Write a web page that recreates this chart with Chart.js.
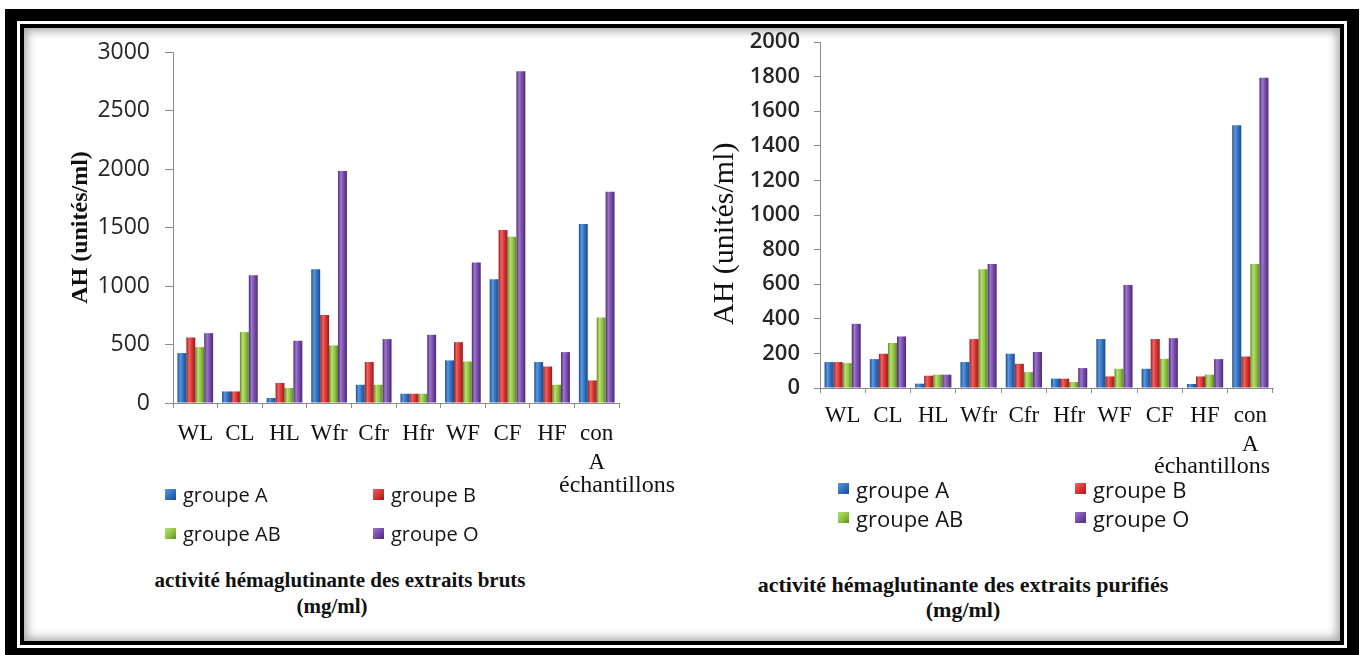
<!DOCTYPE html>
<html>
<head>
<meta charset="utf-8">
<script src="https://cdn.jsdelivr.net/npm/chart.js@4/dist/chart.umd.min.js"></script>
<style>
  html, body { margin: 0; padding: 0; background: #fff; width: 1366px; height: 655px; overflow: hidden; }
  #frame { position: absolute; left: 5px; top: 9px; width: 1354px; height: 651px; box-sizing: border-box;
           border: 12px solid #000; background: #fff; padding: 3px; }
  #inner { width: 100%; height: 100%; box-sizing: border-box; border: 4px solid #000;
           box-shadow: inset 0 0 10px 3px rgba(0,0,0,0.35); background: #fff; }
  canvas { position: absolute; }
  .lg { position: absolute; display: flex; align-items: center; font-family: "Open Sans", sans-serif; color: #151515; white-space: nowrap; }
  .sw { display: inline-block; width: 11px; height: 11px; margin-right: 7px; }
  .cap { position: absolute; transform: translate(-50%, -50%); white-space: nowrap; font-family: "Liberation Serif", "Times New Roman", serif; color: #111; }
  .ttl { position: absolute; transform: translate(-50%, -50%); white-space: nowrap; font-family: "Liberation Serif", "Times New Roman", serif; font-weight: bold; color: #111; }
</style>
</head>
<body>
<div id="frame"><div id="inner"></div></div>
<canvas id="cBruts" width="670" height="470" style="left:30px;top:30px"></canvas>
<canvas id="cPurif" width="640" height="470" style="left:700px;top:28px"></canvas>

<script>
// Samples on the x axis
const categories = ['WL', 'CL', 'HL', 'Wfr', 'Cfr', 'Hfr', 'WF', 'CF', 'HF', ['con', 'A']];
const seriesNames = ['groupe A', 'groupe B', 'groupe AB', 'groupe O'];

// Haemagglutinating activity of the crude extracts (units/ml)
const brutsA  = [427,  99,  43, 1143, 156,  79,  364, 1058, 350, 1530];
const brutsB  = [560,  99, 171,  753, 350,  79,  520, 1479, 312,  193];
const brutsAB = [478, 606, 128,  492, 156,  79,  355, 1422, 156,  730];
const brutsO  = [597, 1092, 532, 1982, 546, 583, 1200, 2835, 435, 1805];

// Haemagglutinating activity of the purified extracts (units/ml)
const purifA  = [150, 167,  25, 150, 198,  54, 283, 111,  23, 1519];
const purifB  = [150, 198,  71, 283, 140,  54,  67, 283,  67,  182];
const purifAB = [144, 260,  77, 686,  92,  35, 111, 169,  77,  717];
const purifO  = [371, 298,  77, 717, 208, 115, 596, 288, 167, 1794];

// Axis tick values
const brutsTicks = [0, 500, 1000, 1500, 2000, 2500, 3000];
const purifTicks = [0, 200, 400, 600, 800, 1000, 1200, 1400, 1600, 1800, 2000];

const axisTitle = 'AH (unités/ml)';
const xCaption = 'échantillons';
const brutsTitle = ['activité hémaglutinante des extraits bruts', '(mg/ml)'];
const purifTitle = ['activité hémaglutinante des extraits purifiés', '(mg/ml)'];

// Bevelled bar shades: [edge, highlight, body]
const shades = [
  ['#1b4c8c', '#5b97dc', '#2f6fc0'],
  ['#9a1b1b', '#ee6464', '#d63232'],
  ['#5c8a22', '#b8de72', '#8dc142'],
  ['#4c2a76', '#9d76cc', '#7549a8']
];

function bevel(idx) {
  const [edge, hi, body] = shades[idx];
  return (ctx) => {
    const chart = ctx.chart;
    const xs = chart.scales && chart.scales.x;
    if (!xs || ctx.type !== 'data' || !isFinite(xs.width)) return body;
    const n = chart.data.labels.length;
    const group = (xs.width / n) * 0.8;
    const bw = group / chart.data.datasets.length;
    const left = xs.getPixelForValue(ctx.dataIndex) - group / 2 + ctx.datasetIndex * bw;
    const g = chart.ctx.createLinearGradient(left, 0, left + bw, 0);
    g.addColorStop(0, edge);
    g.addColorStop(0.3, hi);
    g.addColorStop(0.65, body);
    g.addColorStop(1, edge);
    return g;
  };
}

function makeChart(id, seriesValues, ticks, cfg) {
  const datasets = seriesValues.map((vals, i) => ({
    label: seriesNames[i],
    data: vals,
    backgroundColor: bevel(i),
    borderWidth: 0,
    categoryPercentage: 0.8,
    barPercentage: 1.0
  }));
  return new Chart(document.getElementById(id), {
    type: 'bar',
    data: { labels: categories, datasets },
    options: {
      responsive: false,
      animation: false,
      devicePixelRatio: 1,
      layout: { padding: { left: 0, top: cfg.padTop, right: cfg.padRight, bottom: 0 } },
      plugins: { legend: { display: false }, title: { display: false }, tooltip: { enabled: false } },
      scales: {
        x: {
          grid: { display: true, drawOnChartArea: false, drawTicks: true, tickLength: 5, color: '#8c8c8c', offset: true },
          border: { display: true, color: '#8c8c8c', width: 1 },
          ticks: {
            autoSkip: false, maxRotation: 0, minRotation: 0, padding: cfg.xPad, color: '#111',
            font: { family: '"Liberation Serif", "Times New Roman", serif', size: 23, lineHeight: 1.25 }
          },
          afterFit: (s) => { s.height = cfg.xHeight; s.paddingLeft = 0; s.paddingRight = 0; }
        },
        y: {
          min: ticks[0],
          max: ticks[ticks.length - 1],
          afterBuildTicks: (s) => { s.ticks = ticks.map(v => ({ value: v })); },
          grid: { display: true, drawOnChartArea: false, drawTicks: true, tickLength: cfg.yTickLen, color: '#8c8c8c' },
          border: { display: true, color: '#8c8c8c', width: 1 },
          ticks: {
            padding: cfg.yPad, color: '#262626',
            callback: (v) => String(v),
            font: { family: '"Open Sans", sans-serif', size: cfg.yFont, weight: cfg.yWeight }
          },
          title: {
            display: true, text: axisTitle + cfg.titleTail, color: '#111',
            padding: { top: cfg.titlePad, bottom: 0 },
            font: { family: '"Liberation Serif", "Times New Roman", serif', size: cfg.titleSize, weight: cfg.titleWeight, lineHeight: 1.2 }
          },
          afterFit: (s) => { s.width = cfg.yWidth; s.paddingTop = 0; s.paddingBottom = 0; }
        }
      }
    }
  });
}

makeChart('cBruts', [brutsA, brutsB, brutsAB, brutsO], brutsTicks, {
  padTop: 22, padRight: 81, xHeight: 97, xPad: 12, yWidth: 143,
  yTickLen: 8, yPad: 15, yFont: 23, yWeight: 'normal',
  titlePad: 36.6, titleSize: 24, titleWeight: 'bold', titleTail: ''
});

// trailing spaces nudge the rotated title a little lower along the axis
makeChart('cPurif', [purifA, purifB, purifAB, purifO], purifTicks, {
  padTop: 14, padRight: 67, xHeight: 110, xPad: 9, yWidth: 120,
  yTickLen: 6, yPad: 14, yFont: 22, yWeight: '600',
  titlePad: 7, titleSize: 30, titleWeight: 'normal', titleTail: '\u00a0\u00a0\u00a0\u00a0\u00a0'
});

// Legends, captions and panel titles
function addLegend(pos, fontSize) {
  seriesNames.forEach((name, i) => {
    const el = document.createElement('div');
    el.className = 'lg';
    el.style.left = pos.cols[i % 2] + 'px';
    el.style.top = (pos.rows[Math.floor(i / 2)] - fontSize * 0.7) + 'px';
    el.style.height = (fontSize * 1.4) + 'px';
    el.style.fontSize = fontSize + 'px';
    const sw = document.createElement('span');
    sw.className = 'sw';
    const [edge, hi, body] = shades[i];
    sw.style.background = `linear-gradient(135deg, ${hi} 0%, ${body} 55%, ${edge} 100%)`;
    el.appendChild(sw);
    el.appendChild(document.createTextNode(name));
    document.body.appendChild(el);
  });
}
function addText(cls, text, x, y, size) {
  const el = document.createElement('div');
  el.className = cls;
  el.style.left = x + 'px';
  el.style.top = y + 'px';
  el.style.fontSize = size + 'px';
  el.textContent = text;
  document.body.appendChild(el);
}

addLegend({ cols: [165, 373], rows: [494, 533] }, 20);
addLegend({ cols: [838, 1075], rows: [489, 518] }, 22);

addText('cap', xCaption, 617, 484, 24);
addText('cap', xCaption, 1212, 465, 24);

addText('ttl', brutsTitle[0], 340, 580, 21);
addText('ttl', brutsTitle[1], 332, 606, 21);
addText('ttl', purifTitle[0], 963, 585, 22);
addText('ttl', purifTitle[1], 963, 610, 22);
</script>
</body>
</html>
